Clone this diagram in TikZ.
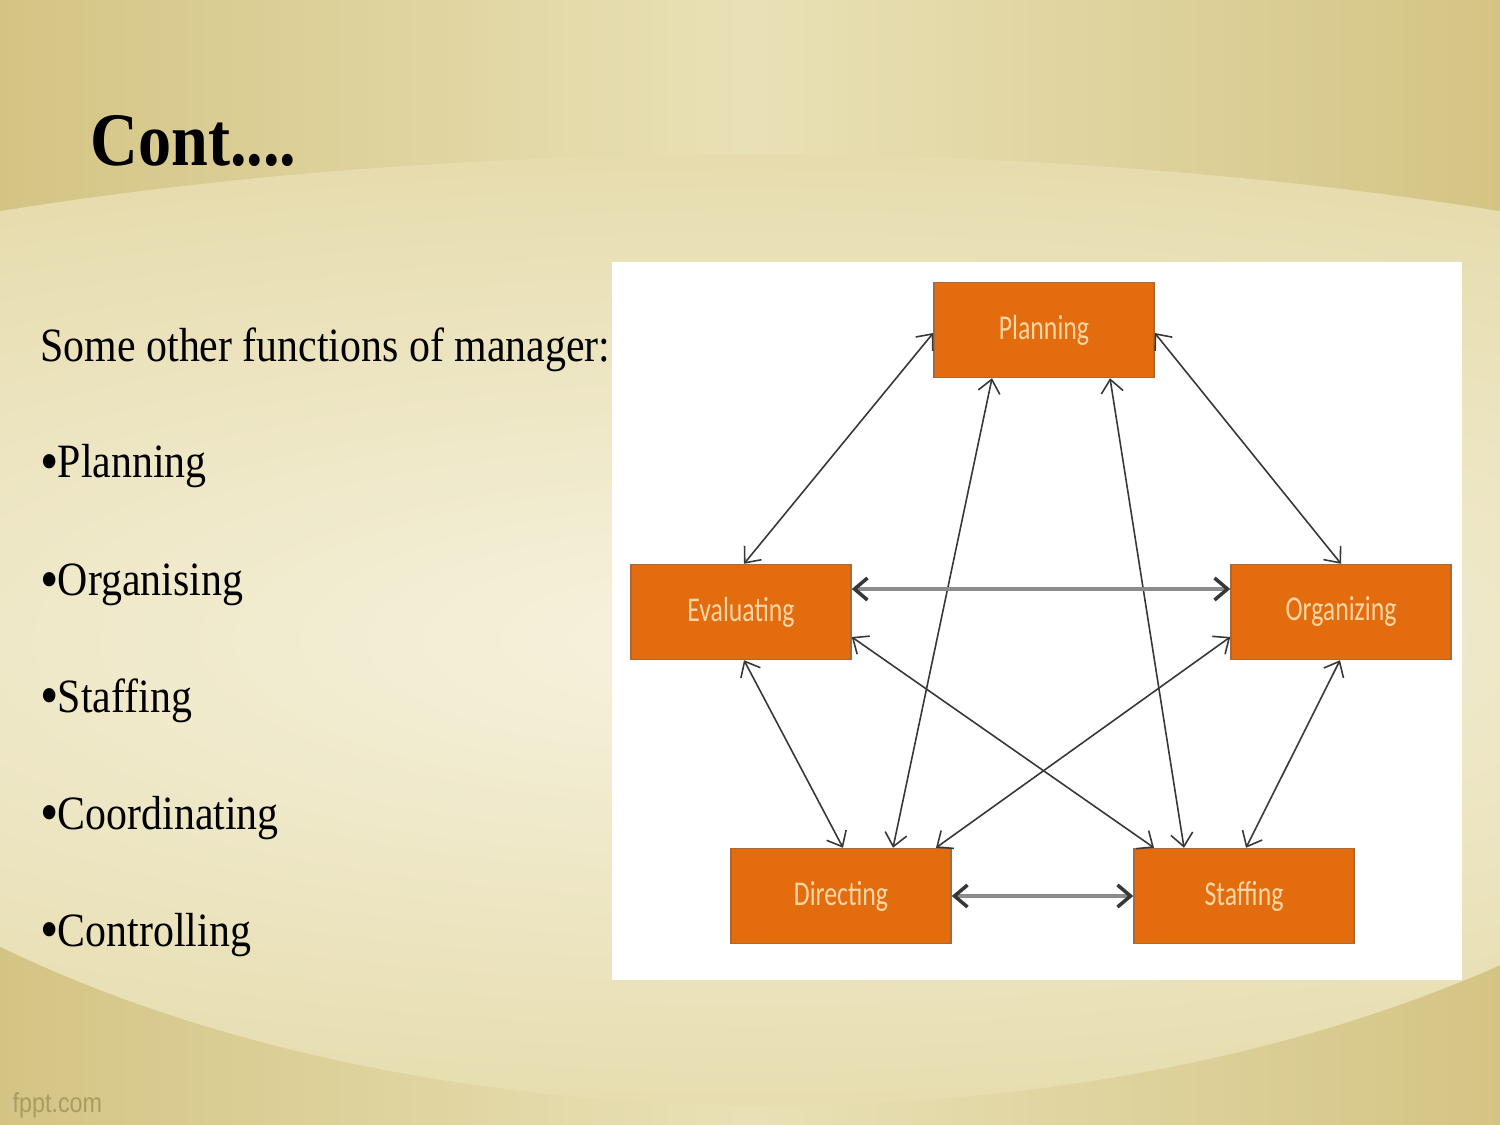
\documentclass[tikz,border=0pt]{standalone}
\usepackage{fontspec}
\setmainfont[FakeStretch=0.875]{Liberation Serif}
\newfontfamily\boxfont[FakeStretch=0.74]{Carlito}
\newfontfamily\markfont[FakeStretch=0.85]{Liberation Sans}
\usetikzlibrary{arrows.meta}
\definecolor{slide-dark}{RGB}{212,196,132}
\definecolor{slide-mid}{RGB}{233,225,182}
\definecolor{slide-light}{RGB}{246,242,222}
\definecolor{slide-band}{RGB}{230,220,174}
\definecolor{box-orange}{RGB}{227,108,14}
\definecolor{box-edge}{RGB}{168,104,60}
\definecolor{box-text}{RGB}{252,214,164}
\definecolor{link-gray}{RGB}{55,55,55}
\definecolor{mark-olive}{RGB}{168,156,100}

\begin{document}
\begin{tikzpicture}[x=0.01cm, y=-0.01cm,
            fn/.style={draw=box-edge, fill=box-orange, text=box-text,
                       minimum width=2.2cm, minimum height=0.95cm, inner sep=0pt,
                       font=\boxfont\fontsize{9.9}{11}\selectfont},
            link/.style={{Straight Barb[length=1.3mm,width=2.2mm,color=link-gray]}-{Straight Barb[length=1.3mm,width=2.2mm,color=link-gray]},
                         draw=link-gray, line width=0.45pt},
            flat/.style={link, draw=black!45, line width=1pt},
            item/.style={anchor=base west, inner sep=0pt,
                         font=\fontsize{13.6}{16}\selectfont}]
  \newcommand\dotmark{\raisebox{-1pt}{\fontsize{17}{17}\selectfont\makebox[4.9pt][l]{•}}}
  \useasboundingbox (0,0) rectangle (1500,1125);
  \shade[left color=slide-dark, right color=slide-dark, middle color=slide-mid]
        (0,0) rectangle (1500,1125);
  \begin{scope}
    \clip (770,500) ellipse [x radius=11.4cm, y radius=6.05cm];
    \shade[inner color=slide-light, outer color=slide-band]
          (750,640) ellipse [x radius=16cm, y radius=4.85cm];
  \end{scope}
  \fill[white] (612,262) rectangle (1462,980);

  \node[anchor=base west, inner sep=0pt, font=\bfseries\fontsize{21.5}{24}\selectfont]
        (title) at (90,166) {Cont....};
  \node[item] (intro)  at (40,362) {Some other functions of manager:};
  \node[item] (iplan)  at (40,478) {\dotmark Planning};
  \node[item] (iorg)   at (40,596) {\dotmark Organising};
  \node[item] (istaff) at (40,712) {\dotmark Staffing};
  \node[item] (icoord) at (40,829) {\dotmark Coordinating};
  \node[item] (ictrl)  at (40,946) {\dotmark Controlling};
  \node[anchor=base west, inner sep=0pt, text=mark-olive,
        font=\markfont\fontsize{7.8}{9}\selectfont] (mark) at (12,1112) {fppt.com};

  \node[fn] (plan)  at (1044,330) {Planning};
  \node[fn] (eval)  at (741,612)  {Evaluating};
  \node[fn] (org)   at (1341,612) {Organizing};
  \node[fn] (dir)   at (841,896)  {Directing};
  \node[fn] (staff) at (1244,896) {Staffing};

  \draw[link] ([shift={(0,3)}]plan.west) -- ([shift={(3,0)}]eval.north);
  \draw[link] ([shift={(0,3)}]plan.east) -- (org.north);
  \draw[link] ([shift={(-52,0)}]plan.south) -- ([shift={(52,0)}]dir.north);
  \draw[link] ([shift={(66,0)}]plan.south) -- ([shift={(-60,0)}]staff.north);
  \draw[flat] ([shift={(0,-23)}]eval.east) -- ([shift={(0,-23)}]org.west);
  \draw[link] ([shift={(0,25)}]eval.east) -- ([shift={(-90,0)}]staff.north);
  \draw[link] ([shift={(0,25)}]org.west) -- ([shift={(95,0)}]dir.north);
  \draw[link] ([shift={(3,0)}]eval.south) -- ([shift={(2,0)}]dir.north);
  \draw[link] ([shift={(-1,0)}]org.south) -- ([shift={(2,0)}]staff.north);
  \draw[flat] (dir.east) -- (staff.west);
\end{tikzpicture}
\end{document}
